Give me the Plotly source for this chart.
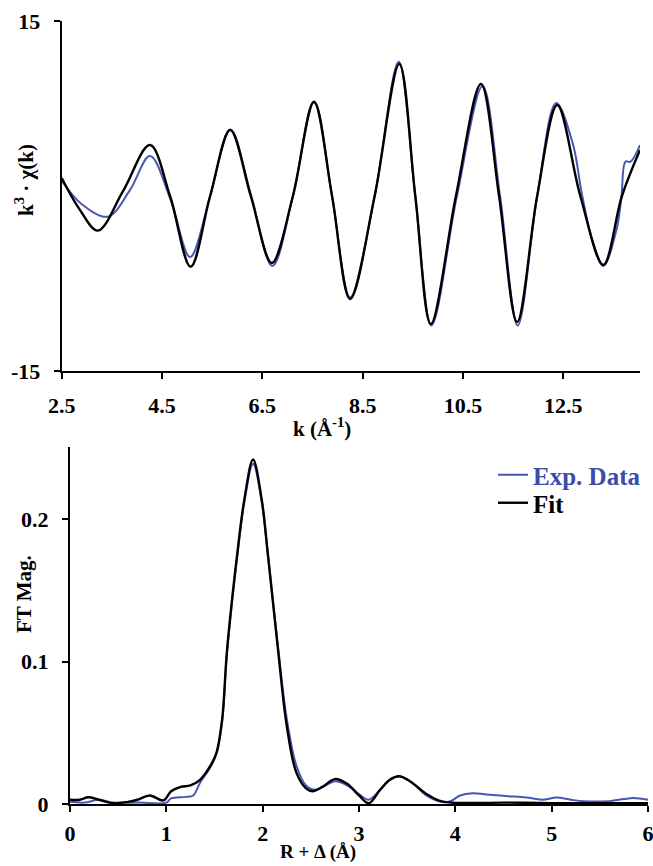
import plotly.graph_objects as go

W, H = 653, 866

# ---------------- Top panel: k^3 chi(k) ----------------
k_fit = [2.5, 2.85, 3.22, 3.72, 4.26, 4.66, 5.07, 5.46, 5.86, 6.27, 6.69, 7.11, 7.53, 7.89, 8.25,
         8.74, 9.23, 9.55, 9.86, 10.36, 10.86, 11.22, 11.58, 11.98, 12.38, 12.84, 13.30, 13.67, 14.03]
chi_fit = [1.54, -1.1, -2.97, 0.4, 4.37, 0.0, -6.06, 0.0, 5.66, 0.0, -5.74, 0.0, 8.06, 0.0, -8.83,
           0.0, 11.31, 0.0, -10.97, 0.0, 9.6, 0.0, -10.8, 0.0, 7.8, 0.0, -5.91, 0.0, 3.94]

k_exp = [2.5, 2.9, 3.42, 3.86, 4.26, 4.67, 5.06, 5.46, 5.86, 6.28, 6.70, 7.11, 7.53, 7.89, 8.25,
         8.74, 9.22, 9.55, 9.87, 10.38, 10.89, 11.24, 11.59, 11.98, 12.36, 12.69, 12.87, 13.08, 13.30,
         13.56, 13.66, 13.74, 13.84, 14.03]
chi_exp = [1.3, -0.7, -1.77, 0.5, 3.43, -0.3, -5.23, 0.0, 5.7, 0.0, -6.0, 0.0, 8.1, 0.0, -8.7,
           0.0, 11.5, 0.0, -11.1, 0.0, 9.4, 0.0, -11.1, 0.0, 7.97, 4.5, 0.2, -3.8, -6.0,
           -2.91, -0.06, 2.94, 2.94, 4.37]

k_ticks = [2.5, 4.5, 6.5, 8.5, 10.5, 12.5]
chi_ticks = [-15, 15]

# ---------------- Bottom panel: FT magnitude ----------------
r_fit = [0.0, 0.1, 0.19, 0.3, 0.45, 0.6, 0.7, 0.83, 0.97, 1.05, 1.15, 1.25, 1.35, 1.45, 1.52,
         1.58, 1.63, 1.74, 1.81, 1.9, 1.99, 2.05, 2.16, 2.25, 2.35, 2.45, 2.52, 2.62, 2.75,
         2.88, 3.0, 3.1, 3.22, 3.32, 3.42, 3.55, 3.7, 3.85, 4.0, 4.5, 5.0, 5.5, 6.0]
ft_fit = [0.003, 0.003, 0.0047, 0.003, 0.0005, 0.0015, 0.003, 0.006, 0.0025, 0.009, 0.012, 0.013,
          0.017, 0.026, 0.036, 0.06, 0.108, 0.178, 0.214, 0.242, 0.214, 0.178, 0.108, 0.055,
          0.022, 0.011, 0.009, 0.012, 0.0175, 0.014, 0.006, 0.0005, 0.01, 0.017, 0.0195, 0.015,
          0.007, 0.002, 0.0008, 0.001, 0.0006, 0.0005, 0.0005]

r_exp = [0.0, 0.15, 0.3, 0.45, 0.7, 1.0, 1.05, 1.2, 1.28, 1.35, 1.45, 1.52, 1.58, 1.63, 1.74,
         1.81, 1.9, 1.99, 2.05, 2.16, 2.25, 2.35, 2.45, 2.55, 2.65, 2.75, 2.88, 3.0, 3.1, 3.22,
         3.32, 3.42, 3.55, 3.7, 3.85, 3.95, 4.05, 4.18, 4.35, 4.55, 4.74, 4.9, 5.05, 5.2, 5.33,
         5.6, 5.75, 5.85, 6.0]
ft_exp = [0.0015, 0.001, 0.003, 0.001, 0.001, 0.001, 0.004, 0.005, 0.006, 0.015, 0.025, 0.035,
          0.058, 0.106, 0.176, 0.212, 0.239, 0.212, 0.178, 0.11, 0.06, 0.027, 0.013, 0.010,
          0.013, 0.016, 0.013, 0.007, 0.003, 0.01, 0.017, 0.0195, 0.015, 0.006, 0.0015, 0.002,
          0.006, 0.0075, 0.0065, 0.0055, 0.0045, 0.003, 0.0045, 0.003, 0.002, 0.002, 0.0035,
          0.0042, 0.003]

r_ticks = [0, 1, 2, 3, 4, 5, 6]
ft_ticks = [0, 0.1, 0.2]
ft_tick_text = ["0", "0.1", "0.2"]

BLUE = "#4a56b4"
BLUE_TXT = "#3d4ca8"
FONT = "Liberation Serif"
TICK_SIZE = 22
TITLE_SIZE = 21
LEG_SIZE = 25

fig = go.Figure()

fig.add_trace(go.Scatter(x=k_exp, y=chi_exp, mode="lines", line=dict(color=BLUE, width=2, shape="spline"),
                         showlegend=False, xaxis="x", yaxis="y"))
fig.add_trace(go.Scatter(x=k_fit, y=chi_fit, mode="lines", line=dict(color="black", width=2.4, shape="spline"),
                         showlegend=False, xaxis="x", yaxis="y"))

fig.add_trace(go.Scatter(x=r_exp, y=ft_exp, mode="lines", line=dict(color=BLUE, width=2, shape="spline"),
                         name="<span style='color:%s'>Exp. Data</span>" % BLUE_TXT, xaxis="x2", yaxis="y2",
                         legend="legend"))
fig.add_trace(go.Scatter(x=r_fit, y=ft_fit, mode="lines", line=dict(color="black", width=2.4, shape="spline"),
                         name="Fit", xaxis="x2", yaxis="y2", legend="legend2"))

axis_common = dict(showline=True, linecolor="black", linewidth=2, ticks="outside", ticklen=6,
                   tickwidth=2, tickcolor="black", showgrid=False, zeroline=False, automargin=False,
                   ticklabeloverflow="allow",
                   tickfont=dict(family=FONT, size=TICK_SIZE, color="black", weight="bold"))

leg_common = dict(xanchor="left", yanchor="middle", bgcolor="rgba(0,0,0,0)",
                  font=dict(family=FONT, size=LEG_SIZE, color="black", weight="bold"))

fig.update_layout(
    width=W, height=H,
    margin=dict(l=0, r=0, t=0, b=0, autoexpand=False),
    paper_bgcolor="white", plot_bgcolor="white",
    font=dict(family=FONT, size=TITLE_SIZE, color="black", weight="bold"),
    xaxis=dict(domain=[61.7 / W, 640 / W], range=[2.5, 14.03], tickmode="array", tickvals=k_ticks,
               ticktext=["%.1f" % v for v in k_ticks], anchor="y", ticklabelstandoff=8, **axis_common),
    yaxis=dict(domain=[1 - 371 / H, 1 - 21 / H], range=[-15, 15], tickmode="array", tickvals=chi_ticks,
               ticktext=[str(v) for v in chi_ticks], anchor="x", ticklabelstandoff=9, **axis_common),
    xaxis2=dict(domain=[70 / W, 648 / W], range=[0, 6], tickmode="array", tickvals=r_ticks,
                ticktext=[str(v) for v in r_ticks], anchor="y2", ticklabelstandoff=3, **axis_common),
    yaxis2=dict(domain=[1 - 804 / H, 1 - 446.7 / H], range=[0, 0.251], tickmode="array", tickvals=ft_ticks,
                ticktext=ft_tick_text, anchor="x2", ticklabelstandoff=9, **axis_common),
    legend=dict(x=493 / W, y=1 - 475 / H, **leg_common),
    legend2=dict(x=493 / W, y=1 - 503 / H, **leg_common),
    annotations=[
        dict(text="k (Å<sup>-1</sup>)", x=322 / W, y=1 - 427 / H, xref="paper", yref="paper",
             showarrow=False, xanchor="center", yanchor="middle",
             font=dict(family=FONT, size=TITLE_SIZE, weight="bold")),
        dict(text="R + Δ (Å)", x=318 / W, y=1 - 852 / H, xref="paper", yref="paper",
             showarrow=False, xanchor="center", yanchor="middle",
             font=dict(family=FONT, size=19, weight="bold")),
        dict(text="k<sup>3</sup> · χ(k)", x=25 / W, y=1 - 180 / H, xref="paper", yref="paper",
             showarrow=False, xanchor="center", yanchor="middle", textangle=-90,
             font=dict(family=FONT, size=TITLE_SIZE, weight="bold")),
        dict(text="FT Mag.", x=24 / W, y=1 - 594 / H, xref="paper", yref="paper",
             showarrow=False, xanchor="center", yanchor="middle", textangle=-90,
             font=dict(family=FONT, size=TITLE_SIZE, weight="bold")),
    ],
)

fig.write_html("out.html")
